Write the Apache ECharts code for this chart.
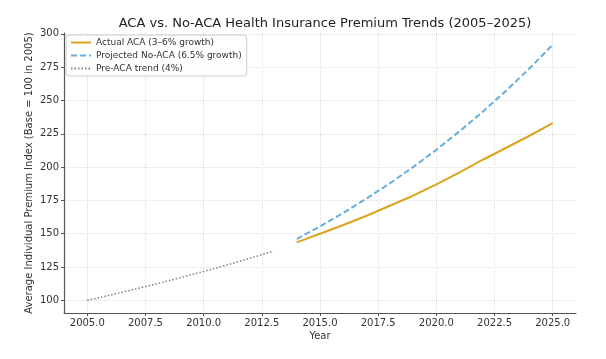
<!DOCTYPE html>
<html>
<head>
<meta charset="utf-8">
<script src="https://cdn.jsdelivr.net/npm/echarts@6/dist/echarts.min.js"></script>
<style>
html,body{margin:0;padding:0;background:#fff;}
#chart{width:606px;height:359px;}
</style>
</head>
<body>
<div id="chart"></div>
<script>
const preYears = [2005, 2006, 2007, 2008, 2009, 2010, 2011, 2012, 2013];
const preValues = [100, 104, 108.2, 112.5, 117, 121.7, 126.5, 131.6, 136.9];
const acaYears = [2014, 2015, 2016, 2017, 2018, 2019, 2020, 2021, 2022, 2023, 2024, 2025];
const acaValues = [143.5, 150, 156.5, 163.5, 171, 178.5, 187, 196, 205.5, 214.5, 223.5, 233];
const noAcaValues = [146, 155.5, 165.6, 176.4, 187.8, 200, 213, 226.9, 241.6, 257.3, 274, 291.8];
const xTicks = [2005, 2007.5, 2010, 2012.5, 2015, 2017.5, 2020, 2022.5, 2025];
const yTicks = [100, 125, 150, 175, 200, 225, 250, 275, 300];

const pair = (xs, ys) => xs.map((x, i) => [x, ys[i]]);
const font = 'DejaVu Sans';

const chart = echarts.init(document.getElementById('chart'), null, {renderer: 'canvas'});
chart.setOption({
  animation: false,
  backgroundColor: '#fff',
  textStyle: {fontFamily: font},
  title: {
    text: 'ACA vs. No-ACA Health Insurance Premium Trends (2005\u20132025)',
    left: 320, top: 12, textAlign: 'center',
    textStyle: {fontFamily: font, fontSize: 13, fontWeight: 'normal', color: '#222'}
  },
  grid: {left: 64, right: 30, top: 33, bottom: 46},
  legend: {
    left: 66, top: 35, orient: 'vertical', itemGap: 4,
    itemWidth: 20, itemHeight: 8,
    backgroundColor: 'rgba(255,255,255,0.85)',
    borderColor: '#ccc', borderWidth: 1, borderRadius: 3, padding: [3, 5, 3, 4],
    itemStyle: {opacity: 0},
    textStyle: {fontFamily: font, fontSize: 9, color: '#333'},
    data: [
      'Actual ACA (3\u20136% growth)',
      'Projected No-ACA (6.5% growth)',
      'Pre-ACA trend (4%)'
    ]
  },
  xAxis: {
    type: 'value', min: 2004, max: 2026,
    name: 'Year', nameLocation: 'middle', nameGap: 18, nameMoveOverlap: false,
    nameTextStyle: {fontFamily: font, fontSize: 10, color: '#333'},
    axisLine: {show: true, onZero: false, lineStyle: {color: '#555', width: 1.2}},
    axisTick: {show: true, length: 3, customValues: xTicks, lineStyle: {color: '#555'}},
    axisLabel: {customValues: xTicks, fontFamily: font, fontSize: 10, color: '#333', margin: 5,
      formatter: v => v.toFixed(1)},
    splitLine: {show: true, lineStyle: {color: '#dedede', type: 'dotted', width: 1}}
  },
  yAxis: {
    type: 'value', min: 90.5, max: 300.6,
    name: 'Average Individual Premium Index (Base = 100 in 2005)',
    nameLocation: 'middle', nameGap: 30, nameMoveOverlap: false,
    nameTextStyle: {fontFamily: font, fontSize: 10, color: '#333'},
    axisLine: {show: true, onZero: false, lineStyle: {color: '#555', width: 1.2}},
    axisTick: {show: true, length: 3, customValues: yTicks, lineStyle: {color: '#555'}},
    axisLabel: {customValues: yTicks, fontFamily: font, fontSize: 10, color: '#333', margin: 5},
    splitLine: {show: true, lineStyle: {color: '#dedede', type: 'dotted', width: 1}}
  },
  series: [
    {
      name: 'Actual ACA (3\u20136% growth)', type: 'line', symbol: 'none',
      data: pair(acaYears, acaValues), color: '#DAA520',
      lineStyle: {color: '#DAA520', width: 2}
    },
    {
      name: 'Projected No-ACA (6.5% growth)', type: 'line', symbol: 'none',
      data: pair(acaYears, noAcaValues), color: '#66aedb',
      lineStyle: {color: '#66aedb', width: 2, type: [6, 3]}
    },
    {
      name: 'Pre-ACA trend (4%)', type: 'line', symbol: 'none',
      data: pair(preYears, preValues), color: '#808080',
      lineStyle: {color: '#808080', width: 1.5, type: [1.5, 2]}
    }
  ]
});
</script>
</body>
</html>
